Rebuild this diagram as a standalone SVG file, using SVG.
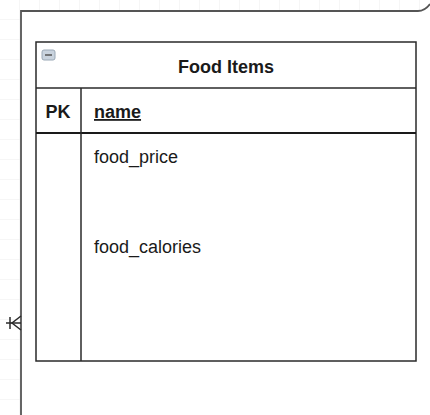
<svg xmlns="http://www.w3.org/2000/svg" width="430" height="415" viewBox="0 0 430 415">
<style>
.t{font-family:"Liberation Sans",Arial,sans-serif;fill:#1a1a1a;font-size:18px}
.b{font-weight:bold}
.ln{stroke:#2a2a2a;stroke-width:1.5;fill:none}
.grid{stroke:#ececec;stroke-width:1}
</style>
<defs>
<pattern id="g" width="20" height="20" patternUnits="userSpaceOnUse" x="0" y="0">
<path d="M20,0 V20 M0,20 H20" class="grid" fill="none"/>
</pattern>
</defs>
<rect width="430" height="415" fill="#ffffff"/>
<rect width="430" height="415" fill="url(#g)"/>
<g id="frame">
<path d="M21,415 V11 H418 Q425,11 430,4 V415 Z" fill="#ffffff"/>
<path d="M21,415 V11 H418 Q425,11 430,4" stroke="#555" stroke-width="1.8" fill="none"/>
</g>
<g id="food-items">
<rect x="36" y="42" width="380" height="319" fill="#ffffff" class="ln"/>
<line x1="36" y1="88" x2="416" y2="88" class="ln"/>
<line x1="36" y1="133" x2="416" y2="133" stroke="#1a1a1a" stroke-width="2"/>
<line x1="81" y1="88" x2="81" y2="361" class="ln"/>
<rect x="42" y="50" width="13" height="10" rx="2" fill="#c9d3de" stroke="#9aa8b6" stroke-width="1"/>
<line x1="45" y1="55" x2="52" y2="55" stroke="#555" stroke-width="1.5"/>
<text class="t b" x="226" y="73" text-anchor="middle">Food Items</text>
<text class="t b" x="58" y="118" text-anchor="middle">PK</text>
<text class="t b" x="94" y="118" text-decoration="underline">name</text>
<text class="t" x="94" y="163">food_price</text>
<text class="t" x="94" y="253">food_calories</text>
</g>
<g id="connectors">
<line x1="6" y1="323" x2="21" y2="323" class="ln"/>
<line x1="10" y1="317" x2="10" y2="329" class="ln"/>
<path d="M21,316 L12,323 L21,330" class="ln"/>
</g>
</svg>
